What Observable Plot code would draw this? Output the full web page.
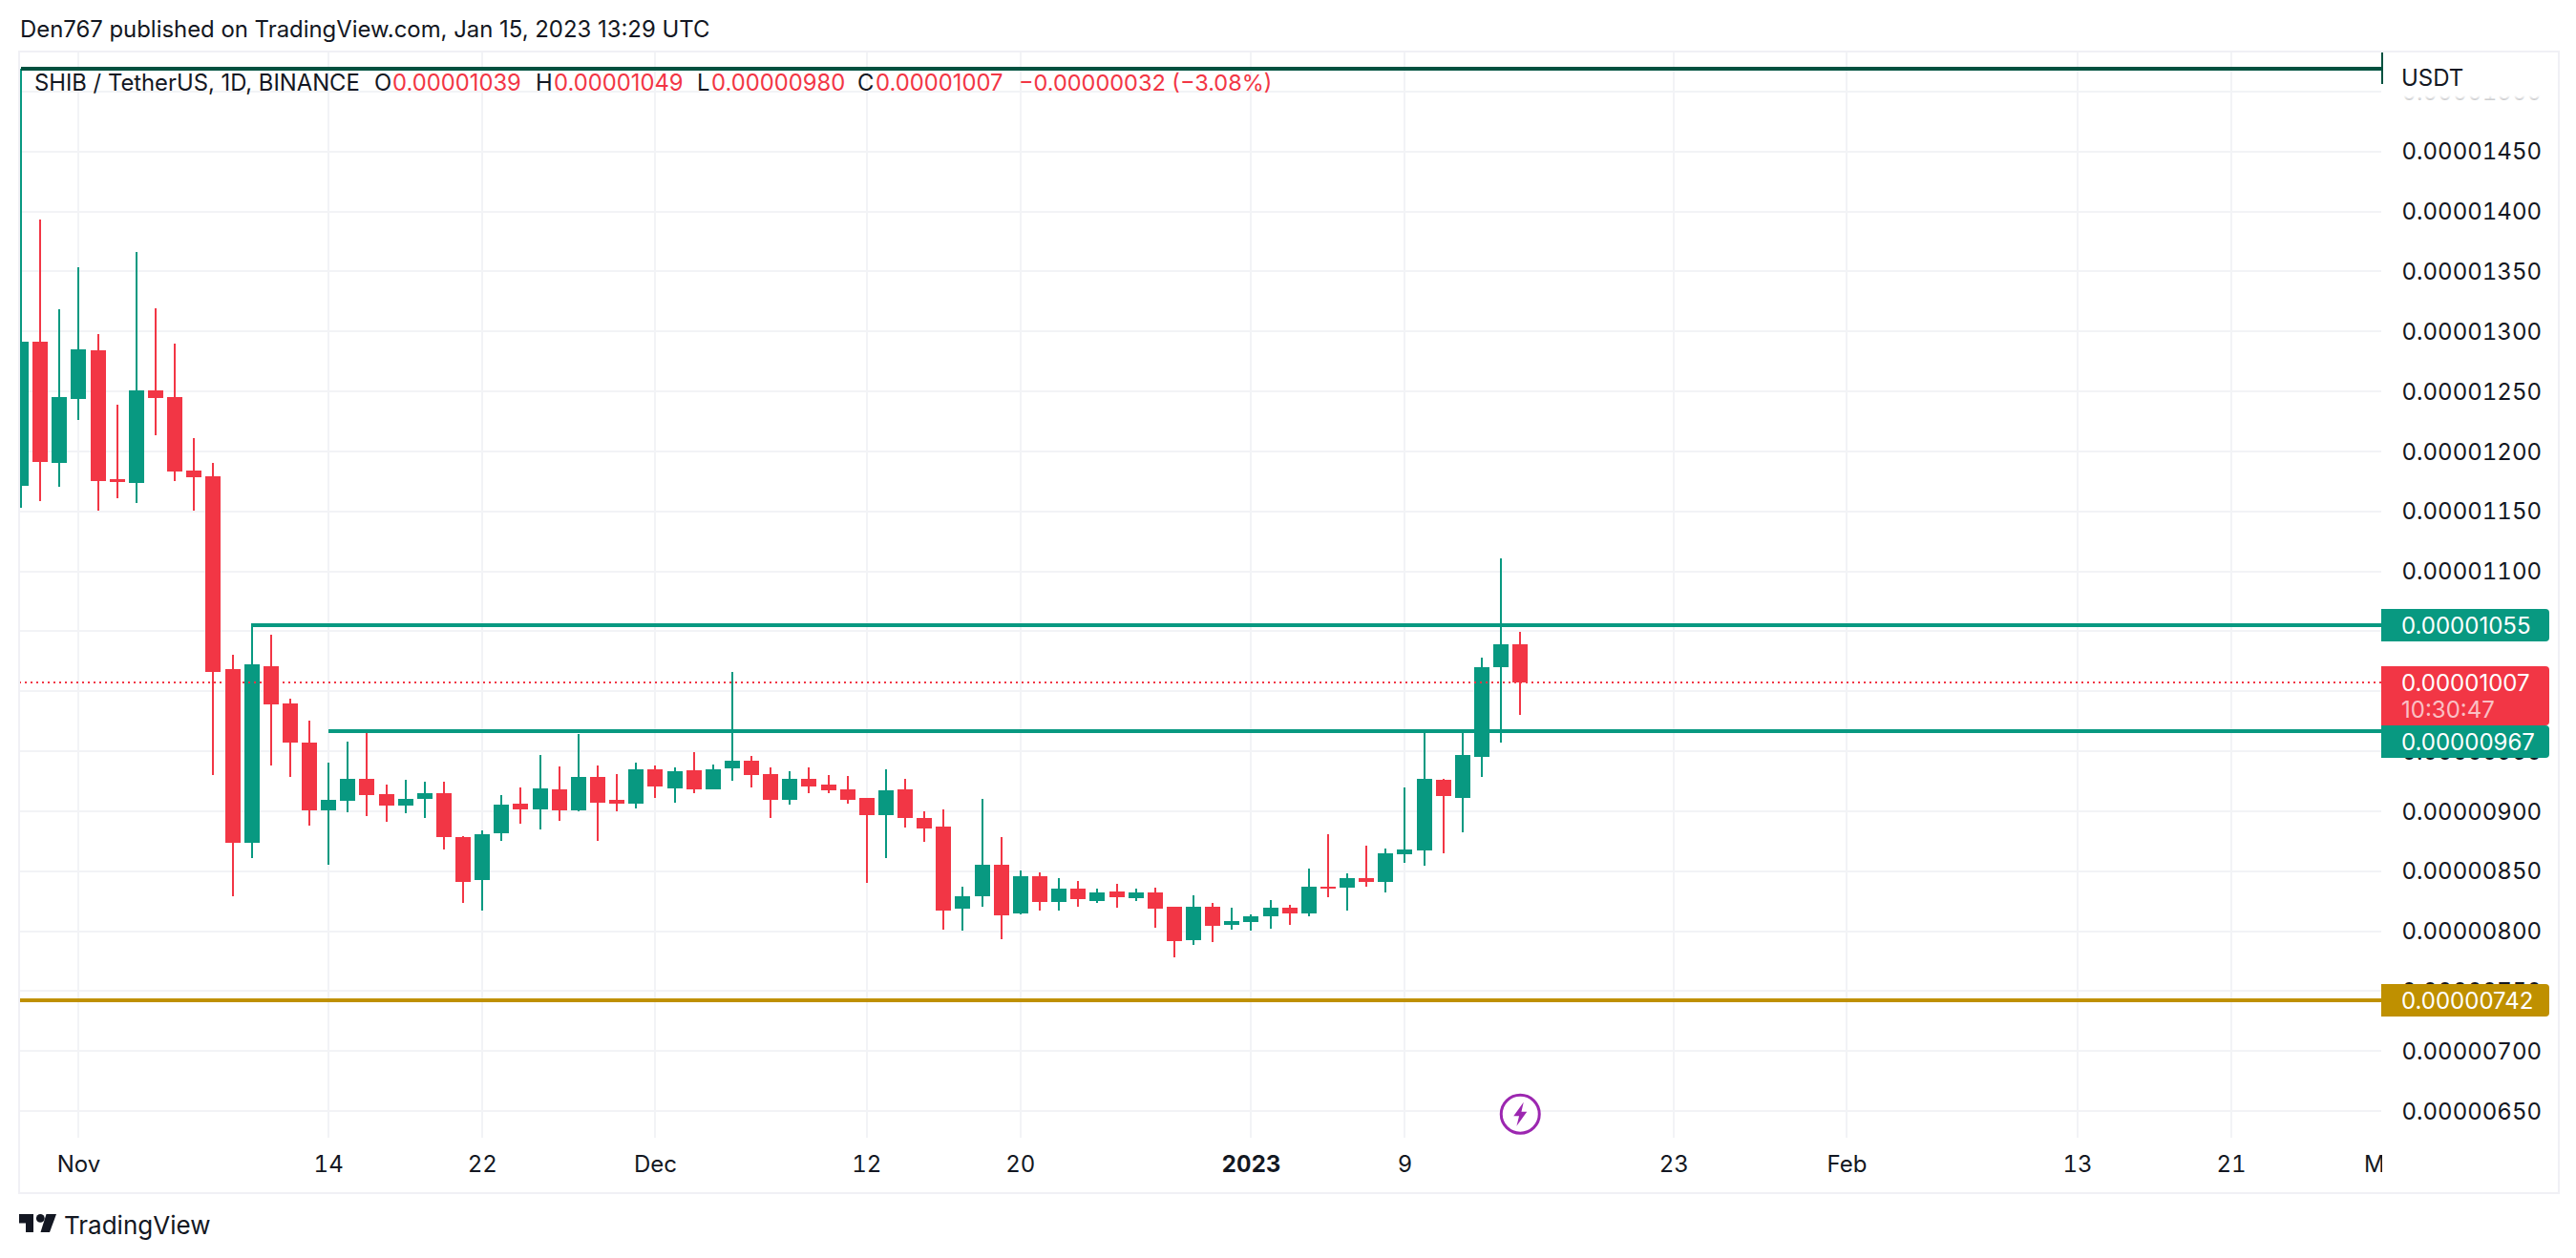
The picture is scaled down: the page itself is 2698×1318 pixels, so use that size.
<!DOCTYPE html>
<html>
<head>
<meta charset="utf-8">
<script src="https://cdn.jsdelivr.net/npm/d3@7"></script>
<script src="https://cdn.jsdelivr.net/npm/@observablehq/plot@0.6"></script>
<style>
  html,body{margin:0;padding:0;background:#fff;}
  #stage{position:relative;width:2698px;height:1318px;overflow:hidden;font-family:Inter,"Noto Sans",sans-serif;color:#131722;}
  #stage svg.plot{position:absolute;left:0;top:0;}
  .abs{position:absolute;white-space:nowrap;line-height:1;}
  .tag{position:absolute;left:2494px;width:176px;border-radius:0 4px 4px 0;color:#fff;font-size:24px;box-sizing:border-box;padding-left:21px;}
</style>
</head>
<body>
<div id="stage"></div>
<script>
// All prices below are in units of 0.00000001 USDT
const firstDay = "2022-10-29";
const open = [1170.9,1291,1189.9,1243.4,1283.7,1176.3,1173,1250.5,1244.8,1183.7,1178.8,1018,873.5,1020.4,989.4,956.8,900.3,908.2,926.5,913.8,904.2,909.8,914.6,878,842.2,881.2,905.8,901,917.8,900.3,928.1,909,905.8,934.5,918.6,933.7,917.8,935.3,941.7,930.5,909,926.5,921.8,917.8,910.6,896.3,917.8,893.9,886.7,818.3,828.6,854.9,814.3,845.3,823.9,835,824.6,832.6,827,831.8,819.9,792,819.9,804.7,807.1,811.9,819.1,814.3,836.6,835.8,843.7,840.6,863.6,866.8,925.7,910.6,944.8,1019.7,1039];
const close = [1291,1190.8,1244.8,1284.6,1174.9,1174,1250.5,1244,1182.8,1178,1015.7,873.5,1022,988.6,956.8,900.3,909,926.5,913,904.2,909.8,914.6,878,840.6,880.4,905,901,918.6,900.3,928.1,906.6,905.8,934.5,920.2,932.9,917.8,934.5,941.7,929.7,909,926.5,920.2,917,909,896.3,917,893.9,885.1,816.7,828.6,854.9,812.7,845.3,823.9,835,826.2,831.8,827.8,831.8,818.3,791.2,819.9,804,807.9,811.9,819.1,814.3,836.6,835,843.7,840.6,864.4,867.6,926.5,912.2,946.4,1019.6,1038.8,1007];
const high = [1519,1392.6,1318,1353,1297.4,1238.5,1365.9,1319,1289.4,1210.7,1190,1030,1055,1046.7,993.4,975.1,940,957.6,965.5,921.8,925.7,924.1,924.1,878.8,883.5,913,919.4,946.4,936.9,964,937.7,930.5,940,937.7,936.1,948.8,938.5,1015.7,945.6,936.1,932.9,936.1,929.7,928.9,910.6,934.5,926.5,899.5,901,836.6,909.8,878,850.1,848.5,843.7,841.4,835,839,835,835.8,819.9,829.4,823,819.1,813.5,825.4,821.5,851.7,880.4,847.7,870.8,868.4,919.4,965.5,926.5,965.5,1027.6,1110.4,1049];
const low = [1152.4,1158,1170,1225.7,1150,1160.4,1156.4,1213,1175,1150,929.7,828.6,860.5,937.7,928.1,887.5,854.9,898.7,895.5,890.7,897.9,893.9,867.6,823.1,816.7,874.8,889.1,884.4,891.5,899.5,874.8,899.5,901.9,910.6,906.6,914.6,917.8,924.9,919.4,893.9,905,914.6,914.6,905.8,839.8,860.5,885.9,874,800.8,800,819.9,792.8,813.5,816.7,816.7,819.9,823,819.1,824.6,802.4,777.7,788,790.4,800.8,800,801.6,804.7,811.9,827.8,816.7,836.6,831.8,856.5,854.1,864.4,882,928.1,956.8,980];

const priceTicks = [650,700,750,800,850,900,950,1000,1050,1100,1150,1200,1250,1300,1350,1400,1450,1500];
// labels at 1000 and 1050 sit fully behind the price tags in the reference, so they are not drawn
const hiddenPriceLabels = [1000,1050];
const timeTickDates = ["2022-11-01","2022-11-14","2022-11-22","2022-12-01","2022-12-12","2022-12-20","2023-01-01","2023-01-09","2023-01-23","2023-02-01","2023-02-13","2023-02-21","2023-03-01"];
const timeTickLabels = ["Nov","14","22","Dec","12","20","2023","9","23","Feb","13","21","Mar"];

const upColor = "#089981", downColor = "#f23645", darkColor = "#00513f", goldColor = "#bf9000";
const lastPrice = 1007, resistance = 1055, support = 967, floorLevel = 742, topLevel = 1519;
const resistanceStart = "2022-11-10", supportStart = "2022-11-14";

const parse = s => new Date(s + "T00:00:00Z");
const start = parse(firstDay);
const candles = open.map((o, i) => ({
  date: d3.utcDay.offset(start, i), o, c: close[i], h: high[i], l: low[i],
  color: close[i] >= o ? upColor : downColor
}));
const ticks = timeTickDates.map((s, i) => ({date: parse(s), label: timeTickLabels[i]}));
const xMin = new Date(Date.UTC(2022, 9, 28, 22, 6));
const xMax = new Date(Date.UTC(2023, 1, 28, 19, 41));
const lastDay = candles[candles.length - 1].date;
const fmt = d => (d * 1e-8).toFixed(8);
const gridTicks = ticks.filter(t => t.date < xMax);
const plainTicks = ticks.filter(t => t.label !== "2023");
const boldTicks = ticks.filter(t => t.label === "2023");
const axisFont = {fontSize: 24, tickSize: 0, tickPadding: 18};
const crisp = {shapeRendering: "crispEdges"};
const boltSymbol = {draw(ctx, size) {
  const r = Math.sqrt(size / Math.PI), k = r / 20;
  const pts = [[3.5,-12.5],[-7,2],[-1.2,2],[-3.8,12.5],[7,-2.5],[1.2,-2.5]];
  pts.forEach(([x, y], i) => i ? ctx.lineTo(x * k, y * k) : ctx.moveTo(x * k, y * k));
  ctx.closePath();
}};

const chart = Plot.plot({
  width: 2698, height: 1318,
  marginLeft: 20, marginRight: 204, marginTop: 54, marginBottom: 126,
  style: {fontFamily: 'Inter,"Noto Sans",sans-serif', color: "#131722", background: "transparent", overflow: "visible"},
  x: {type: "utc", domain: [xMin, xMax], axis: null},
  y: {domain: [627.3, 1533], axis: null},
  color: {type: "identity"},
  marks: [
    Plot.gridY(priceTicks, {stroke: "#f2f3f6", strokeOpacity: 1, strokeWidth: 2, ...crisp}),
    Plot.gridX(gridTicks.map(t => t.date), {stroke: "#f2f3f6", strokeOpacity: 1, strokeWidth: 2, ...crisp}),
    Plot.ruleX(candles, {x: "date", y1: "l", y2: "h", stroke: "color", strokeWidth: 2, clip: true, ...crisp}),
    Plot.ruleX(candles, {x: "date", y1: "o", y2: "c", stroke: "color", strokeWidth: 16, clip: true, ...crisp}),
    Plot.ruleY([lastPrice], {stroke: downColor, strokeWidth: 2, strokeDasharray: "2,4", ...crisp}),
    Plot.ruleY([resistance], {x1: parse(resistanceStart), x2: xMax, stroke: upColor, strokeWidth: 4, ...crisp}),
    Plot.ruleY([support], {x1: parse(supportStart), x2: xMax, stroke: upColor, strokeWidth: 4, ...crisp}),
    Plot.ruleY([floorLevel], {x1: xMin, x2: xMax, stroke: goldColor, strokeWidth: 4, ...crisp}),
    Plot.ruleY([topLevel], {x1: start, x2: xMax, stroke: darkColor, strokeWidth: 4, ...crisp}),
    Plot.ruleX([xMax], {y1: 1506, y2: 1532, stroke: darkColor, strokeWidth: 2, ...crisp}),
    Plot.dot([lastDay], {x: d => d, y: 647.4, r: 20, stroke: "#9c27b0", strokeWidth: 3, fill: "#fff"}),
    Plot.dot([lastDay], {x: d => d, y: 647.4, r: 20, symbol: boltSymbol, fill: "#9c27b0", stroke: "none"}),
    Plot.axisY(priceTicks.filter(v => !hiddenPriceLabels.includes(v)), {anchor: "right", tickSize: 0, tickPadding: 21, fontSize: 24, dy: 1, tickFormat: fmt, label: null}),
    Plot.axisX(plainTicks.map(t => t.date), {anchor: "bottom", ...axisFont, label: null,
      tickFormat: d => plainTicks.find(t => +t.date === +d).label}),
    Plot.axisX(boldTicks.map(t => t.date), {anchor: "bottom", ...axisFont, fontWeight: 700, label: null,
      tickFormat: d => boldTicks.find(t => +t.date === +d).label})
  ]
});

const stage = document.getElementById("stage");
stage.appendChild(chart);
const yS = v => chart.scale("y").apply(v);

function add(html, css, cls) {
  const el = document.createElement("div");
  el.className = cls || "abs";
  el.style.cssText = css;
  el.innerHTML = html;
  stage.appendChild(el);
  return el;
}
// cover that clips the last time label at the pane edge
add("", "left:2495px;top:1193px;width:182px;height:54px;background:#fff;");
// frame
add("", "left:19px;top:53px;width:2658px;height:1194px;border:2px solid #f0f0f5;box-sizing:content-box;");
// currency cover and label
add("", "left:2496px;top:56px;width:180px;height:50px;background:linear-gradient(#fff 88%,rgba(255,255,255,.72));");
add("USDT", "left:2515px;top:70px;font-size:24px;");
// header
add("Den767 published on TradingView.com, Jan 15, 2023 13:29 UTC", "left:21px;top:19px;font-size:23.9px;");
// legend
const legendDark = "#131722";
[["SHIB / TetherUS, 1D, BINANCE",36,legendDark,23.8],["O",392,legendDark,23.8],["0.00001039",411,downColor,23.8],
 ["H",561,legendDark,23.8],["0.00001049",580,downColor,23.8],["L",730,legendDark,23.8],["0.00000980",745,downColor,23.8],
 ["C",898,legendDark,23.8],["0.00001007",917,downColor,23.8],["−0.00000032 (−3.08%)",1067,downColor,23.5]]
 .forEach(([t, x, c, s]) => add(t, `left:${x}px;top:75px;font-size:${s}px;color:${c};`));

// price tags, positioned from the chart's y scale
const tag = (value, color, h, offset) => {
  const cy = yS(value) + offset;
  add(`<div style="line-height:${h + 2}px;height:${h}px;">${fmt(value)}</div>`,
    `top:${cy - h / 2}px;height:${h}px;background:${color};`, "tag");
};
tag(resistance, upColor, 34, 0);
const cy = yS(lastPrice);
add(`<div style="position:absolute;top:5px;left:21px;line-height:26px;">${fmt(lastPrice)}</div><div style="position:absolute;top:33px;left:21px;line-height:26px;color:rgba(255,255,255,.7);">10:30:47</div>`,
  `top:${cy - 17}px;height:62px;background:${downColor};`, "tag");
tag(support, upColor, 34, 11.5);
tag(floorLevel, goldColor, 34, 0);

// footer logo
add(`<svg width="40" height="20" viewBox="0 0 40 20" style="display:block"><path d="M0 0H15V19H7V9.5H0Z" fill="#131722"/><circle cx="22.3" cy="4.4" r="4.4" fill="#131722"/><path d="M28.5 0H39L32 19H22.5Z" fill="#131722"/></svg>`,
  "left:20px;top:1272px;");
add("TradingView", "left:67px;top:1271px;font-size:26px;font-weight:400;");
</script>
</body>
</html>
